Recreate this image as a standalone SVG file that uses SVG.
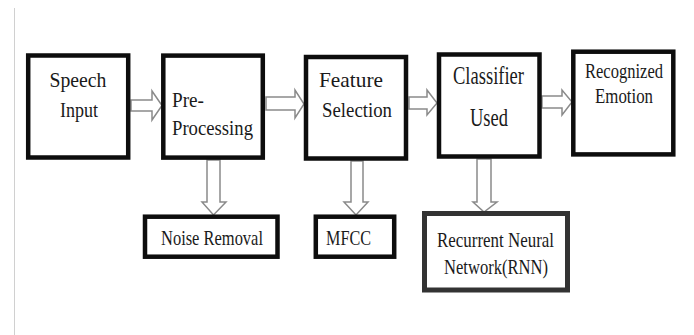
<svg xmlns="http://www.w3.org/2000/svg" width="694" height="335" viewBox="0 0 694 335">
<style>
.box{fill:#fff;stroke:#0d0d0d;stroke-width:4.5}
.rnn{fill:#fff;stroke:#333;stroke-width:5}
.arr{fill:#fff;stroke:#8a8a8a;stroke-width:1.5;stroke-linejoin:miter}
.t{fill:#1a1a1a;text-anchor:middle}
</style>
<rect width="694" height="335" fill="#fff"/>
<line x1="14.5" y1="8" x2="14.5" y2="335" stroke="#d0d0d0" stroke-width="1"/>
<g id="connectors">
<path class="arr" d="M131,100 L152,100 L152,91 L162,105.5 L152,120 L152,111 L131,111 Z"/>
<path class="arr" d="M266,97 L295,97 L295,90 L304,104 L295,118 L295,110 L266,110 Z"/>
<path class="arr" d="M409,97 L427,97 L427,90 L437,103 L427,115 L427,109 L409,109 Z"/>
<path class="arr" d="M542,96 L562,96 L562,90 L572,102 L562,115 L562,108 L542,108 Z"/>
<path class="arr" d="M207,160 L207,202 L202,202 L213.5,215 L226,202 L220,202 L220,160 Z"/>
<path class="arr" d="M351,161 L351,202 L344,202 L356,215 L368,202 L363,202 L363,161 Z"/>
<path class="arr" d="M477,159 L477,202 L473,202 L484,212 L497,202 L491,202 L491,159 Z"/>
</g>
<g font-family="'Liberation Serif', 'DejaVu Serif', serif">
<g id="speech-input">
<rect class="box" x="28.2" y="55.5" width="100" height="102"/>
<text class="t" x="78" y="87" font-size="21" textLength="57" lengthAdjust="spacingAndGlyphs">Speech</text>
<text class="t" x="79" y="117" font-size="21" textLength="38" lengthAdjust="spacingAndGlyphs">Input</text>
</g>
<g id="pre-processing">
<rect class="box" x="163.3" y="55.6" width="99.5" height="102"/>
<text class="t" x="188" y="107" font-size="20" textLength="32" lengthAdjust="spacingAndGlyphs">Pre-</text>
<text class="t" x="212.5" y="135" font-size="20" textLength="81" lengthAdjust="spacingAndGlyphs">Processing</text>
</g>
<g id="feature-selection">
<rect class="box" x="306" y="57" width="100" height="101.5"/>
<text class="t" x="351" y="87" font-size="22" textLength="64" lengthAdjust="spacingAndGlyphs">Feature</text>
<text class="t" x="357" y="117" font-size="22" textLength="70" lengthAdjust="spacingAndGlyphs">Selection</text>
</g>
<g id="classifier-used">
<rect class="box" x="439" y="54.5" width="100.5" height="102"/>
<text class="t" x="488.5" y="84" font-size="25" textLength="71" lengthAdjust="spacingAndGlyphs">Classifier</text>
<text class="t" x="489" y="126" font-size="25" textLength="38" lengthAdjust="spacingAndGlyphs">Used</text>
</g>
<g id="recognized-emotion">
<rect class="box" x="573.3" y="51.7" width="100" height="102.7"/>
<text class="t" x="624" y="78" font-size="20" textLength="78" lengthAdjust="spacingAndGlyphs">Recognized</text>
<text class="t" x="624" y="103" font-size="20" textLength="58" lengthAdjust="spacingAndGlyphs">Emotion</text>
</g>
<g id="noise-removal">
<rect class="box" x="145" y="216.7" width="132.5" height="40"/>
<text class="t" x="212" y="245" font-size="22" textLength="102" lengthAdjust="spacingAndGlyphs">Noise Removal</text>
</g>
<g id="mfcc">
<rect class="box" x="315.8" y="216.7" width="78.4" height="40"/>
<text class="t" x="348.5" y="245" font-size="22" textLength="45" lengthAdjust="spacingAndGlyphs">MFCC</text>
</g>
<g id="rnn">
<rect class="rnn" x="424.5" y="213.5" width="143" height="76.5"/>
<text class="t" x="495.5" y="247" font-size="21" textLength="117" lengthAdjust="spacingAndGlyphs">Recurrent Neural</text>
<text class="t" x="496" y="273.5" font-size="21" textLength="104" lengthAdjust="spacingAndGlyphs">Network(RNN)</text>
</g>
</g>
</svg>
